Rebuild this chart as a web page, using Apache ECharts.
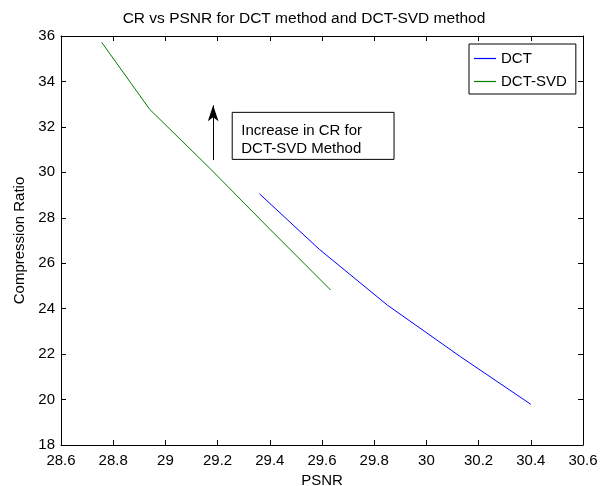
<!DOCTYPE html>
<html>
<head>
<meta charset="utf-8">
<script src="https://cdn.jsdelivr.net/npm/echarts@6/dist/echarts.min.js"></script>
<style>
  html, body { margin: 0; padding: 0; background: #fff; }
  #chart { width: 608px; height: 486px; }
</style>
</head>
<body>
<div id="chart"></div>
<script>
// PSNR (x) vs compression ratio (y)
const dctPsnr = [29.36, 29.59, 29.85, 30.13, 30.40];
const dctCr = [29.06, 26.61, 24.16, 21.89, 19.79];
const svdPsnr = [28.756, 28.94, 29.17, 29.40, 29.633];
const svdCr = [35.72, 32.77, 30.18, 27.50, 24.82];

const xTicks = { min: 28.6, max: 30.6, step: 0.2 };
const yTicks = { min: 18, max: 36, step: 2 };

// annotation anchors in data units
const arrowFrom = [29.183, 30.54];
const arrowTo = [29.183, 32.95];
const noteBox = [29.256, 32.64, 29.876, 30.57];
const noteLines = ["Increase in CR for", "DCT-SVD Method"];

const FONT = "Liberation Sans";
const pairs = (xs, ys) => xs.map((x, i) => [x, ys[i]]);

const chart = echarts.init(document.getElementById("chart"));

const axisCommon = {
  axisLine: { lineStyle: { color: "#000", width: 1 } },
  axisTick: { inside: true, length: 5, lineStyle: { color: "#000" } },
  splitLine: { show: false },
};

const option = {
  animation: false,
  backgroundColor: "#fff",
  textStyle: { fontFamily: FONT },
  title: {
    text: "CR vs PSNR for DCT method and DCT-SVD method",
    left: "center",
    top: 6,
    textStyle: { fontFamily: FONT, fontSize: 15.5, fontWeight: "normal", color: "#000" },
  },
  grid: { left: 61, right: 25, top: 36, bottom: 41, outerBoundsMode: "none", containLabel: false },
  legend: {
    orient: "vertical",
    left: 469,
    top: 44,
    padding: [7, 9, 5, 5],
    itemGap: 8,
    itemWidth: 22,
    itemHeight: 1.2,
    icon: "rect",
    borderColor: "#000",
    borderWidth: 1,
    backgroundColor: "#fff",
    textStyle: { fontFamily: FONT, fontSize: 15, color: "#000", lineHeight: 15 },
    data: ["DCT", "DCT-SVD"],
  },
  xAxis: [
    {
      ...axisCommon,
      type: "value",
      min: xTicks.min,
      max: xTicks.max,
      interval: xTicks.step,
      name: "PSNR",
      nameLocation: "middle",
      nameGap: 28,
      nameTextStyle: { fontFamily: FONT, fontSize: 15, color: "#000" },
      axisLabel: {
        margin: 8,
        fontFamily: FONT,
        fontSize: 15,
        color: "#000",
        formatter: (v) => String(+v.toFixed(1)),
      },
    },
    {
      ...axisCommon,
      type: "value",
      position: "top",
      min: xTicks.min,
      max: xTicks.max,
      interval: xTicks.step,
      axisLabel: { show: false },
    },
  ],
  yAxis: [
    {
      ...axisCommon,
      type: "value",
      min: yTicks.min,
      max: yTicks.max,
      interval: yTicks.step,
      name: "Compression Ratio",
      nameLocation: "middle",
      nameGap: 31,
      nameTextStyle: { fontFamily: FONT, fontSize: 15, color: "#000" },
      axisLabel: { margin: 6, fontFamily: FONT, fontSize: 15, color: "#000" },
    },
    {
      ...axisCommon,
      type: "value",
      position: "right",
      min: yTicks.min,
      max: yTicks.max,
      interval: yTicks.step,
      axisLabel: { show: false },
    },
  ],
  series: [
    {
      name: "DCT",
      type: "line",
      data: pairs(dctPsnr, dctCr),
      symbol: "none",
      lineStyle: { color: "#0000ff", width: 1 },
      itemStyle: { color: "#0000ff" },
    },
    {
      name: "DCT-SVD",
      type: "line",
      data: pairs(svdPsnr, svdCr),
      symbol: "none",
      lineStyle: { color: "#008000", width: 1 },
      itemStyle: { color: "#008000" },
      markLine: {
        silent: true,
        symbol: ["none", "arrow"],
        symbolSize: [8, 16],
        label: { show: false },
        lineStyle: { color: "#000", width: 1, type: "solid" },
        data: [[{ coord: arrowFrom }, { coord: arrowTo }]],
      },
    },
  ],
};

chart.setOption(option);

// text box placed from its data-unit corners
const p1 = chart.convertToPixel({ gridIndex: 0 }, [noteBox[0], noteBox[1]]);
const p2 = chart.convertToPixel({ gridIndex: 0 }, [noteBox[2], noteBox[3]]);
chart.setOption({
  graphic: [
    {
      type: "rect",
      shape: { x: p1[0], y: p1[1], width: p2[0] - p1[0], height: p2[1] - p1[1] },
      style: { fill: "#fff", stroke: "#000", lineWidth: 1 },
      z: 10,
    },
    {
      type: "text",
      x: p1[0] + 9,
      y: p1[1] + 10,
      style: {
        text: noteLines.join("\n"),
        font: "15px " + FONT,
        fill: "#000",
        lineHeight: 18,
      },
      z: 11,
    },
  ],
});
</script>
</body>
</html>
